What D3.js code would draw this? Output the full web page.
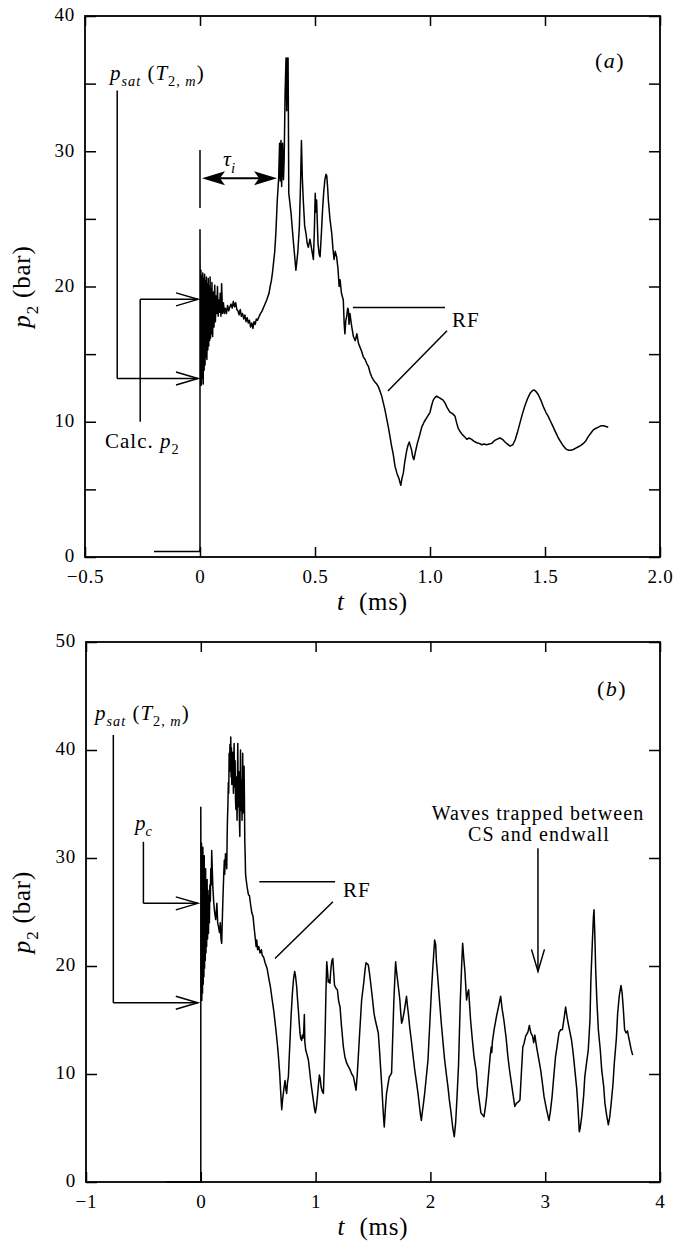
<!DOCTYPE html>
<html><head><meta charset="utf-8">
<script src="https://cdn.jsdelivr.net/npm/d3@7"></script>
<style>
body{margin:0;background:#fff}
svg{display:block}
text{font-family:"Liberation Serif","Times New Roman",serif;fill:#000;white-space:pre}
</style>
</head><body>
<svg id="c" width="676" height="1245"></svg>
<script>
// ---------- DATA ----------
const A_xTicks = [-0.5, 0, 0.5, 1.0, 1.5, 2.0];
const A_xLabels = ["\u22120.5", "0", "0.5", "1.0", "1.5", "2.0"];
const A_yTicks = [0, 5, 10, 15, 20, 25, 30, 35, 40];
const A_yLabels = ["0", "", "10", "", "20", "", "30", "", "40"];

const B_xTicks = [-1, 0, 1, 2, 3, 4];
const B_xLabels = ["\u22121", "0", "1", "2", "3", "4"];
const B_yTicks = [0, 10, 20, 30, 40, 50];
const B_yLabels = ["0", "10", "20", "30", "40", "50"];

// panel (a): [t (ms), p2 (bar)]
const A_trace = [
[-0.2,0.4],[-0.002,0.4],[0,0.6],[0,24.2],[0.002,13.0],[0.004,21.2],[0.006,12.7],[0.008,20.8],[0.010,13.2],[0.012,21.0],[0.014,12.8],[0.016,20.6],[0.018,13.8],[0.020,20.9],[0.022,14.2],[0.024,20.4],[0.026,14.8],[0.028,20.7],[0.030,14.6],[0.032,20.2],[0.034,15.3],[0.036,20.6],[0.038,15.6],[0.040,20.0],[0.042,16.0],[0.044,20.7],[0.046,16.2],[0.048,19.8],[0.050,16.5],[0.052,20.3],[0.055,16.3],[0.058,19.6],[0.061,17.0],[0.064,20.1],[0.067,17.4],[0.070,19.3],[0.073,18.0],[0.076,20.0],[0.079,17.8],[0.082,19.0],[0.085,18.1],[0.088,19.5],[0.091,17.8],[0.094,20.2],[0.098,18.0],[0.102,18.8],[0.106,18.0],[0.11,18.4],[0.115,18.0],[0.12,18.6],[0.125,18.2],[0.13,18.5],[0.135,18.7],[0.14,18.4],[0.145,18.9],[0.15,18.5],[0.155,18.8],[0.16,18.3],[0.165,18.2],[0.17,17.9],[0.175,18.3],[0.18,17.8],[0.185,18.0],[0.19,17.6],[0.195,17.9],[0.20,17.4],[0.205,17.7],[0.21,17.3],[0.215,17.5],[0.22,17.0],[0.225,17.3],[0.23,16.9],[0.235,17.4],[0.24,17.2],[0.245,17.6],[0.25,17.5],[0.26,17.9],[0.27,18.2],[0.28,18.6],[0.29,19.0],[0.30,19.5],[0.305,20.0],[0.31,20.4],[0.315,21.0],[0.32,21.8],[0.325,22.6],[0.33,24.0],[0.336,26.4],[0.342,28.0],[0.346,30.6],[0.349,27.8],[0.352,30.8],[0.355,27.4],[0.359,30.6],[0.363,27.9],[0.366,29.5],[0.370,34.3],[0.374,36.9],[0.377,33.0],[0.380,36.9],[0.383,36.9],[0.386,26.9],[0.396,25.4],[0.405,23.5],[0.417,21.2],[0.425,22.5],[0.432,24.4],[0.437,27.5],[0.441,30.8],[0.445,28.0],[0.449,26.4],[0.455,24.5],[0.461,23.9],[0.466,23.2],[0.471,22.9],[0.478,23.5],[0.486,22.7],[0.493,22.0],[0.497,24.0],[0.501,26.9],[0.504,25.5],[0.507,26.4],[0.513,23.2],[0.518,22.4],[0.522,22.2],[0.528,24.0],[0.533,25.7],[0.538,27.0],[0.543,27.9],[0.548,28.3],[0.551,28.2],[0.555,27.3],[0.558,26.4],[0.565,25.0],[0.573,23.9],[0.578,22.8],[0.583,22.0],[0.588,22.6],[0.594,22.2],[0.600,21.3],[0.605,20.0],[0.609,20.5],[0.615,19.5],[0.623,19.0],[0.627,17.2],[0.630,16.5],[0.634,17.5],[0.638,17.8],[0.642,18.4],[0.645,18.3],[0.648,17.2],[0.652,18.0],[0.66,17.0],[0.667,16.3],[0.675,16.0],[0.682,16.5],[0.689,15.8],[0.696,15.5],[0.703,15.2],[0.71,14.8],[0.718,14.6],[0.725,14.3],[0.732,14.1],[0.74,13.6],[0.747,13.3],[0.754,13.1],[0.762,12.9],[0.768,12.8],[0.775,12.6],[0.782,12.3],[0.79,11.9],[0.797,11.4],[0.804,10.9],[0.812,10.2],[0.819,9.6],[0.826,8.9],[0.833,8.2],[0.84,7.6],[0.848,6.7],[0.856,6.2],[0.865,5.8],[0.873,5.3],[0.878,5.8],[0.884,6.2],[0.89,7.0],[0.899,7.9],[0.905,8.3],[0.91,8.5],[0.915,8.2],[0.92,7.9],[0.925,7.4],[0.93,7.2],[0.937,7.8],[0.945,8.4],[0.955,9.0],[0.964,9.6],[0.975,10.0],[0.986,10.3],[1.0,10.7],[1.007,11.2],[1.014,11.6],[1.022,11.8],[1.029,11.9],[1.038,11.8],[1.048,11.7],[1.057,11.6],[1.065,11.4],[1.076,11.0],[1.087,10.7],[1.098,10.6],[1.109,10.4],[1.116,9.9],[1.123,9.5],[1.13,9.3],[1.138,9.1],[1.15,8.9],[1.16,8.7],[1.17,8.8],[1.181,8.7],[1.192,8.55],[1.203,8.45],[1.214,8.4],[1.225,8.3],[1.235,8.35],[1.246,8.3],[1.257,8.35],[1.268,8.4],[1.28,8.6],[1.29,8.7],[1.304,8.8],[1.315,8.7],[1.326,8.5],[1.337,8.35],[1.348,8.2],[1.36,8.3],[1.37,8.65],[1.38,9.2],[1.391,9.9],[1.402,10.6],[1.413,11.2],[1.424,11.7],[1.435,12.1],[1.445,12.3],[1.452,12.35],[1.46,12.25],[1.471,12.0],[1.482,11.6],[1.493,11.1],[1.504,10.7],[1.514,10.4],[1.525,10.0],[1.536,9.6],[1.547,9.2],[1.558,8.8],[1.569,8.5],[1.58,8.2],[1.59,8.0],[1.601,7.9],[1.612,7.9],[1.623,7.95],[1.634,8.05],[1.645,8.15],[1.656,8.25],[1.667,8.4],[1.678,8.6],[1.688,8.9],[1.699,9.15],[1.71,9.4],[1.72,9.5],[1.732,9.6],[1.743,9.7],[1.754,9.7],[1.765,9.65],[1.775,9.6]
];

// panel (b): [t (ms), p2 (bar)]
const B_trace = [
[-0.3,0],[0,0],[0,34.7],[0.003,17.0],[0.006,31.4],[0.009,16.8],[0.012,30.5],[0.015,17.5],[0.018,31.0],[0.021,18.3],[0.024,29.6],[0.027,19.0],[0.030,30.2],[0.033,19.8],[0.036,28.8],[0.039,20.5],[0.042,29.0],[0.045,21.2],[0.048,27.8],[0.051,21.8],[0.055,28.0],[0.059,22.5],[0.063,27.0],[0.067,23.0],[0.071,26.5],[0.075,24.0],[0.079,27.5],[0.083,26.0],[0.087,29.0],[0.091,27.5],[0.095,30.7],[0.100,29.0],[0.105,27.3],[0.112,26.0],[0.12,25.0],[0.13,24.3],[0.14,25.8],[0.147,24.0],[0.155,23.6],[0.163,23.1],[0.170,24.0],[0.176,22.5],[0.182,22.1],[0.188,24.5],[0.195,27.0],[0.200,28.5],[0.205,29.8],[0.208,28.5],[0.211,29.2],[0.215,30.4],[0.218,29.6],[0.222,30.3],[0.226,29.0],[0.229,31.5],[0.232,33.5],[0.236,34.8],[0.240,37.0],[0.243,36.0],[0.247,39.7],[0.250,38.0],[0.254,40.5],[0.258,38.6],[0.261,41.2],[0.264,37.5],[0.267,40.2],[0.270,36.8],[0.273,38.5],[0.276,37.2],[0.280,39.8],[0.284,36.0],[0.287,38.2],[0.290,40.6],[0.293,37.8],[0.296,36.6],[0.299,39.0],[0.302,35.5],[0.306,34.5],[0.309,37.5],[0.313,35.2],[0.316,33.5],[0.319,36.8],[0.322,40.6],[0.325,36.0],[0.328,34.75],[0.331,38.0],[0.334,35.0],[0.337,33.2],[0.340,32.0],[0.343,36.5],[0.346,40.0],[0.349,36.5],[0.352,34.4],[0.356,37.2],[0.359,33.5],[0.362,35.5],[0.365,39.7],[0.368,36.0],[0.371,34.2],[0.374,36.5],[0.377,38.5],[0.380,35.5],[0.383,31.7],[0.386,30.5],[0.390,28.5],[0.395,28.0],[0.405,27.2],[0.415,26.6],[0.424,26.5],[0.435,25.6],[0.445,24.9],[0.455,24.6],[0.465,23.5],[0.475,22.5],[0.482,21.8],[0.487,22.4],[0.495,21.5],[0.505,21.8],[0.516,21.2],[0.528,21.5],[0.535,21.0],[0.548,20.8],[0.56,20.3],[0.577,19.8],[0.59,19.0],[0.606,18.1],[0.62,17.0],[0.635,15.9],[0.65,14.5],[0.664,13.1],[0.675,11.8],[0.687,10.1],[0.695,8.5],[0.705,6.7],[0.712,7.6],[0.719,8.2],[0.726,8.8],[0.734,9.4],[0.741,8.6],[0.748,8.2],[0.755,9.2],[0.763,9.75],[0.77,11.5],[0.777,13.1],[0.787,15.5],[0.798,17.5],[0.808,18.8],[0.818,19.5],[0.826,19.0],[0.835,18.1],[0.842,17.0],[0.85,15.9],[0.857,14.8],[0.864,13.8],[0.87,13.3],[0.879,13.1],[0.885,13.6],[0.89,13.3],[0.896,13.8],[0.902,15.5],[0.906,13.0],[0.914,12.2],[0.925,11.8],[0.937,11.3],[0.947,10.4],[0.957,9.4],[0.968,8.5],[0.98,7.6],[0.99,6.8],[0.998,6.4],[1.007,7.0],[1.016,7.9],[1.025,9.0],[1.033,9.9],[1.04,9.6],[1.048,8.8],[1.058,8.4],[1.068,8.2],[1.075,10.5],[1.083,13.8],[1.09,17.5],[1.097,20.4],[1.104,19.5],[1.11,18.5],[1.117,18.7],[1.125,18.4],[1.13,19.3],[1.135,19.9],[1.142,20.5],[1.15,20.7],[1.157,19.5],[1.165,18.2],[1.17,18.1],[1.18,17.9],[1.19,17.8],[1.2,16.8],[1.213,16.2],[1.225,14.5],[1.242,12.5],[1.255,11.6],[1.271,11.0],[1.285,10.7],[1.3,10.4],[1.315,10.0],[1.329,9.75],[1.34,9.2],[1.352,8.5],[1.362,9.8],[1.372,11.6],[1.385,14.0],[1.401,16.85],[1.412,17.8],[1.422,18.7],[1.43,19.6],[1.439,20.3],[1.45,20.2],[1.459,20.1],[1.47,19.3],[1.48,18.4],[1.495,17.0],[1.509,15.6],[1.52,15.0],[1.533,14.4],[1.546,13.8],[1.558,12.0],[1.569,10.1],[1.577,8.8],[1.583,7.6],[1.59,6.3],[1.598,5.1],[1.608,6.8],[1.618,8.2],[1.63,9.0],[1.642,9.75],[1.652,9.9],[1.662,10.1],[1.672,13.5],[1.682,16.85],[1.69,18.8],[1.697,20.4],[1.705,19.5],[1.714,18.7],[1.724,17.8],[1.734,16.85],[1.742,15.6],[1.749,14.7],[1.756,14.9],[1.763,15.3],[1.772,15.8],[1.782,16.5],[1.792,17.2],[1.8,16.3],[1.808,15.6],[1.82,14.3],[1.834,13.1],[1.848,11.8],[1.863,10.4],[1.878,9.3],[1.892,8.2],[1.905,7.0],[1.914,6.2],[1.921,5.7],[1.93,6.5],[1.94,7.3],[1.95,8.2],[1.965,9.8],[1.979,11.3],[1.993,14.3],[2.008,17.5],[2.022,20.0],[2.037,22.4],[2.046,22.0],[2.052,20.5],[2.066,18.7],[2.08,16.7],[2.095,14.7],[2.11,12.9],[2.124,11.3],[2.14,9.9],[2.153,8.8],[2.165,7.6],[2.18,6.4],[2.195,5.0],[2.208,4.2],[2.22,5.5],[2.232,7.9],[2.245,10.8],[2.26,16.6],[2.272,20.0],[2.281,22.1],[2.29,20.8],[2.3,19.6],[2.315,16.85],[2.325,17.5],[2.333,17.8],[2.342,16.3],[2.35,15.0],[2.365,13.2],[2.38,11.6],[2.4,10.2],[2.41,8.8],[2.425,7.6],[2.44,6.4],[2.455,6.2],[2.467,6.05],[2.48,7.0],[2.49,7.9],[2.505,9.8],[2.52,11.6],[2.53,12.5],[2.535,12.0],[2.54,13.0],[2.555,14.1],[2.575,15.3],[2.595,16.3],[2.612,17.2],[2.625,16.0],[2.64,15.0],[2.66,13.3],[2.675,11.6],[2.69,10.3],[2.705,9.2],[2.72,8.1],[2.735,7.0],[2.75,7.3],[2.765,7.4],[2.78,7.6],[2.792,10.0],[2.805,12.5],[2.815,12.8],[2.83,13.5],[2.85,13.9],[2.862,14.5],[2.875,13.8],[2.89,13.5],[2.9,12.9],[2.91,13.6],[2.925,12.5],[2.94,11.6],[2.96,10.4],[2.975,9.2],[2.99,7.9],[3.01,6.8],[3.033,5.7],[3.045,6.5],[3.06,7.9],[3.075,9.8],[3.09,11.6],[3.1,12.3],[3.12,13.8],[3.135,14.1],[3.15,14.1],[3.165,15.2],[3.178,16.2],[3.19,15.3],[3.2,14.7],[3.215,13.9],[3.23,13.1],[3.245,11.8],[3.258,10.4],[3.275,8.6],[3.285,7.0],[3.297,4.65],[3.305,5.0],[3.318,6.05],[3.335,8.0],[3.345,9.75],[3.36,11.0],[3.375,12.2],[3.39,15.0],[3.398,18.7],[3.41,22.0],[3.42,24.5],[3.425,25.2],[3.432,23.0],[3.44,19.6],[3.45,16.8],[3.463,14.1],[3.48,12.2],[3.492,10.4],[3.51,8.8],[3.52,7.3],[3.535,6.2],[3.55,5.3],[3.562,6.0],[3.575,7.3],[3.59,9.0],[3.602,11.0],[3.62,13.3],[3.631,15.6],[3.645,17.2],[3.66,18.2],[3.67,17.5],[3.68,16.1],[3.692,14.1],[3.705,13.8],[3.717,14.0],[3.727,13.4],[3.737,12.9],[3.748,12.3],[3.762,11.75]
];

// annotation anchors (data units)
const A_psat = {t:-0.36, top:34.5, p:13.2};
const A_calc = {t:-0.26, bottom:10.0, p:19.05};
const A_tau  = {t0:0, t1:0.335, p:28.0, markTop:30.1, markBottom:25.8};
const A_rf   = {h:[0.665,1.065,18.45], d:[0.817,12.27,1.074,16.73]};
const B_psat = {t:-0.762, top:41.4, p:16.6};
const B_pc   = {t:-0.5, top:31.5, p:25.8};
const B_rf   = {h:[0.51,1.17,27.8], d:[0.646,20.7,1.151,25.95]};
const B_waves = {t:2.937, top:30.9, bottom:19.5};

// ---------- DRAW ----------
const svg = d3.select("#c");

function rich(sel, x, y, parts, size, anchor, ls) {
  const t = sel.append("text").attr("x", x).attr("y", y)
    .attr("font-size", size).attr("text-anchor", anchor || "start");
  if (ls) t.attr("letter-spacing", ls);
  let shift = 0;
  parts.forEach(p => {
    const ts = t.append("tspan").text(p.t);
    if (p.i) ts.attr("font-style", "italic");
    const target = p.sub ? size * 0.3 : 0;
    if (target !== shift) { ts.attr("dy", target - shift); shift = target; }
    if (p.sub) ts.attr("font-size", size * 0.68);
    if (p.dx) ts.attr("dx", p.dx);
  });
  return t;
}

function openArrow(g, x1, y1, x2, y2) {
  g.append("line").attr("x1", x1).attr("y1", y1).attr("x2", x2).attr("y2", y2);
  const a = Math.atan2(y2 - y1, x2 - x1), L = 22, W = 6.5;
  const bx = x2 - L * Math.cos(a), by = y2 - L * Math.sin(a);
  const nx = -Math.sin(a) * W, ny = Math.cos(a) * W;
  g.append("path").attr("fill", "none")
    .attr("d", `M${bx + nx},${by + ny}L${x2},${y2}L${bx - nx},${by - ny}`);
}

function panel(cfg) {
  const x = d3.scaleLinear().domain(cfg.xDom).range([cfg.left, cfg.right]);
  const y = d3.scaleLinear().domain(cfg.yDom).range([cfg.bottom, cfg.top]);
  const g = svg.append("g");

  const styleAxis = a => {
    a.select(".domain").remove();
    a.selectAll(".tick line").attr("stroke", "#000").attr("stroke-width", 1.5);
    a.selectAll(".tick text").attr("font-family", "Liberation Serif")
      .attr("font-size", 19).attr("fill", "#000").attr("letter-spacing", 0.8);
  };
  g.append("g").attr("transform", `translate(0,${cfg.bottom})`)
    .call(d3.axisBottom(x).tickValues(cfg.xTicks).tickFormat((d, i) => cfg.xLabels[i])
      .tickSize(-10).tickSizeOuter(0).tickPadding(13)).call(styleAxis);
  g.append("g").attr("transform", `translate(0,${cfg.top})`)
    .call(d3.axisTop(x).tickValues(cfg.xTicks).tickFormat("").tickSize(-10).tickSizeOuter(0)).call(styleAxis);
  g.append("g").attr("transform", `translate(${cfg.left},0)`)
    .call(d3.axisLeft(y).tickValues(cfg.yTicks).tickFormat((d, i) => cfg.yLabels[i])
      .tickSize(-11).tickSizeOuter(0).tickPadding(10)).call(styleAxis)
    .selectAll(".tick text").attr("dy", "0.26em");
  g.append("g").attr("transform", `translate(${cfg.right},0)`)
    .call(d3.axisRight(y).tickValues(cfg.yTicks).tickFormat("").tickSize(-11).tickSizeOuter(0)).call(styleAxis);

  g.append("rect").attr("x", cfg.left).attr("y", cfg.top)
    .attr("width", cfg.right - cfg.left).attr("height", cfg.bottom - cfg.top)
    .attr("fill", "none").attr("stroke", "#000").attr("stroke-width", 1.8);

  g.append("path").datum(cfg.trace)
    .attr("d", d3.line().x(d => x(d[0])).y(d => y(d[1])))
    .attr("fill", "none").attr("stroke", "#000").attr("stroke-width", 1.5)
    .attr("stroke-linejoin", "round");

  // axis titles
  rich(g, (cfg.left + cfg.right) / 2, cfg.bottom + 53,
    [{t: "t", i: true}, {t: "  (ms)"}], 25, "middle", 0.8);
  const yt = g.append("g").attr("transform", `translate(30,${(cfg.top + cfg.bottom) / 2}) rotate(-90)`);
  rich(yt, 0, 0, [{t: "p", i: true}, {t: "2", sub: true}, {t: " (bar)"}], 25, "middle", 0.8);

  return {g, x, y};
}

// Panel (a)
const A = panel({left: 85, right: 660, top: 16, bottom: 557, xDom: [-0.5, 2.0], yDom: [0, 40],
  xTicks: A_xTicks, xLabels: A_xLabels, yTicks: A_yTicks, yLabels: A_yLabels, trace: A_trace});
{
  const {g, x, y} = A;
  const ann = g.append("g").attr("stroke", "#000").attr("stroke-width", 1.5).attr("fill", "none");
  ann.append("line").attr("x1", x(A_psat.t)).attr("y1", y(A_psat.top)).attr("x2", x(A_psat.t)).attr("y2", y(A_psat.p));
  openArrow(ann, x(A_psat.t), y(A_psat.p), x(0) - 2, y(A_psat.p));
  ann.append("line").attr("x1", x(A_calc.t)).attr("y1", y(A_calc.bottom)).attr("x2", x(A_calc.t)).attr("y2", y(A_calc.p));
  openArrow(ann, x(A_calc.t), y(A_calc.p), x(0) - 2, y(A_calc.p));
  ann.append("line").attr("x1", x(A_tau.t0)).attr("y1", y(A_tau.markTop)).attr("x2", x(A_tau.t0)).attr("y2", y(A_tau.markBottom));
  const tx0 = x(A_tau.t0) + 2, tx1 = x(A_tau.t1), ty = y(A_tau.p);
  ann.append("line").attr("x1", tx0 + 10).attr("y1", ty).attr("x2", tx1 - 10).attr("y2", ty).attr("stroke-width", 2);
  g.append("path").attr("fill", "#000")
    .attr("d", `M${tx0},${ty}L${tx0 + 23},${ty - 7}L${tx0 + 18},${ty}L${tx0 + 23},${ty + 7}Z`);
  g.append("path").attr("fill", "#000")
    .attr("d", `M${tx1},${ty}L${tx1 - 23},${ty - 7}L${tx1 - 18},${ty}L${tx1 - 23},${ty + 7}Z`);
  ann.append("line").attr("x1", x(A_rf.h[0])).attr("y1", y(A_rf.h[2])).attr("x2", x(A_rf.h[1])).attr("y2", y(A_rf.h[2]));
  ann.append("line").attr("x1", x(A_rf.d[0])).attr("y1", y(A_rf.d[1])).attr("x2", x(A_rf.d[2])).attr("y2", y(A_rf.d[3]));

  rich(g, 110, 80, [{t: "p", i: true}, {t: "sat", i: true, sub: true}, {t: " ("}, {t: "T", i: true}, {t: "2, ", sub: true}, {t: "m", i: true, sub: true}, {t: ")"}], 21, "start", 1.0);
  rich(g, 105, 448, [{t: "Calc. "}, {t: "p", i: true}, {t: "2", sub: true}], 21, "start", 1.0);
  rich(g, 223, 166, [{t: "\u03C4", i: true}, {t: "i", i: true, sub: true}], 22, "start");
  rich(g, 452, 327, [{t: "RF"}], 21, "start", 1.0);
  rich(g, 595, 68, [{t: "("}, {t: "a", i: true}, {t: ")"}], 22, "start", 1.5);
}

// Panel (b)
const B = panel({left: 86, right: 660, top: 642, bottom: 1182, xDom: [-1, 4], yDom: [0, 50],
  xTicks: B_xTicks, xLabels: B_xLabels, yTicks: B_yTicks, yLabels: B_yLabels, trace: B_trace});
{
  const {g, x, y} = B;
  const ann = g.append("g").attr("stroke", "#000").attr("stroke-width", 1.5).attr("fill", "none");
  ann.append("line").attr("x1", x(B_psat.t)).attr("y1", y(B_psat.top)).attr("x2", x(B_psat.t)).attr("y2", y(B_psat.p));
  openArrow(ann, x(B_psat.t), y(B_psat.p), x(0) - 3, y(B_psat.p));
  ann.append("line").attr("x1", x(B_pc.t)).attr("y1", y(B_pc.top)).attr("x2", x(B_pc.t)).attr("y2", y(B_pc.p));
  openArrow(ann, x(B_pc.t), y(B_pc.p), x(0) - 3, y(B_pc.p));
  ann.append("line").attr("x1", x(B_rf.h[0])).attr("y1", y(B_rf.h[2])).attr("x2", x(B_rf.h[1])).attr("y2", y(B_rf.h[2]));
  ann.append("line").attr("x1", x(B_rf.d[0])).attr("y1", y(B_rf.d[1])).attr("x2", x(B_rf.d[2])).attr("y2", y(B_rf.d[3]));
  openArrow(ann, x(B_waves.t), y(B_waves.top), x(B_waves.t), y(B_waves.bottom));

  rich(g, 95, 720, [{t: "p", i: true}, {t: "sat", i: true, sub: true}, {t: " ("}, {t: "T", i: true}, {t: "2, ", sub: true}, {t: "m", i: true, sub: true}, {t: ")"}], 21, "start", 1.0);
  rich(g, 135, 830, [{t: "p", i: true}, {t: "c", i: true, sub: true}], 21, "start");
  rich(g, 343, 897, [{t: "RF"}], 21, "start", 1.0);
  rich(g, 538, 820, [{t: "Waves trapped between"}], 20, "middle", 1.1);
  rich(g, 539, 841, [{t: "CS and endwall"}], 20, "middle", 1.1);
  rich(g, 597, 696, [{t: "("}, {t: "b", i: true}, {t: ")"}], 22, "start", 1.5);
}
</script>
</body></html>
